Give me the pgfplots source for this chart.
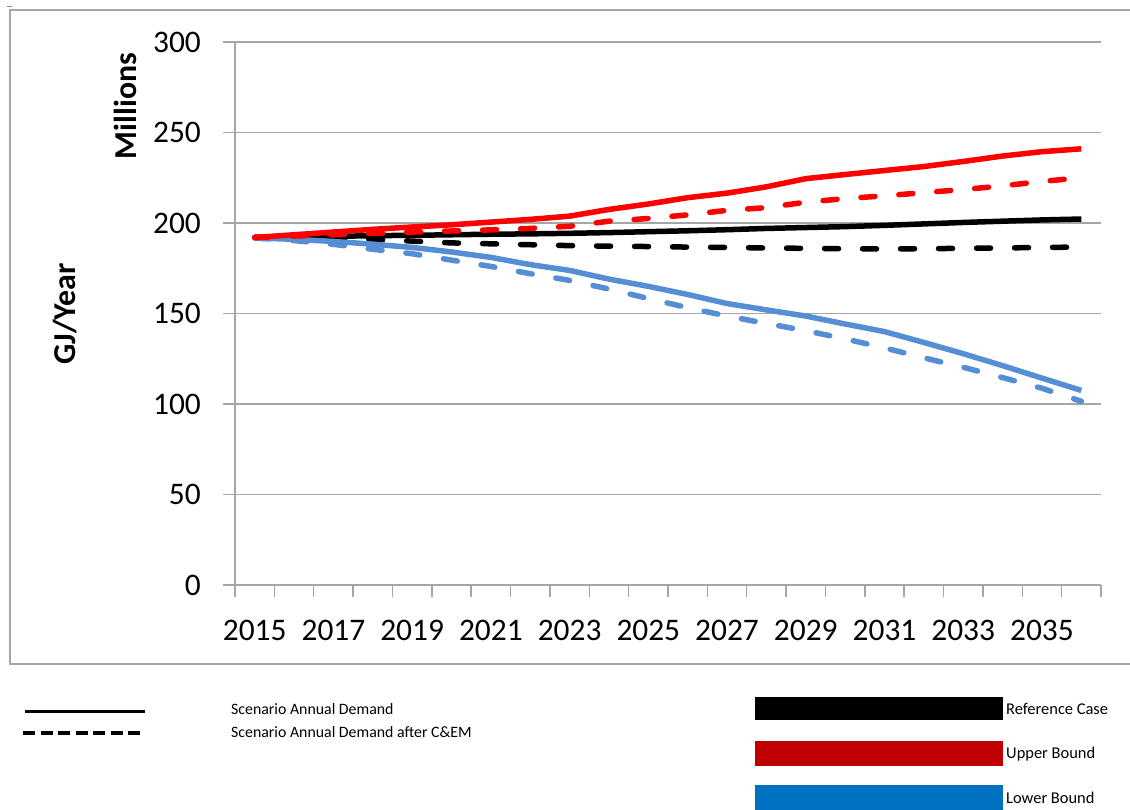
\documentclass[border=0pt]{standalone}
\usepackage{pgfplots}
\pgfplotsset{compat=1.18}
\usepackage{fontspec}
\setmainfont{Carlito}

\definecolor{gridgray}{HTML}{A6A6A6}
\definecolor{lineblue}{HTML}{558ED5}
\definecolor{boxred}{HTML}{C00000}
\definecolor{boxblue}{HTML}{0070C0}

\begin{document}
\begin{tikzpicture}
\useasboundingbox (0,0) rectangle (1130bp,-810bp);
% outer frame
\draw[gridgray, line width=1.5bp] (1140bp,-10bp) -- (10bp,-10bp) -- (10bp,-664bp) -- (1140bp,-664bp);
\draw[gray, line width=1bp] (7bp,-6bp) -- (12bp,-6bp);

\begin{axis}[
  at={(235bp,-585bp)}, anchor=south west,
  scale only axis, width=866bp, height=543bp,
  xmin=2014.5, xmax=2036.5, ymin=0, ymax=300,
  axis lines=left, axis line style={-, gridgray, line width=1.5bp},
  tick align=outside, major tick length=12bp,
  tick style={gridgray, line width=1.5bp},
  ytick={0,50,...,300},
  ymajorgrids, major grid style={gridgray, line width=1.5bp},
  xtick={2014.5,2015.5,...,2036.5}, xticklabel=\empty,
  extra x ticks={2015,2017,...,2035},
  extra x tick labels={2015,2017,2019,2021,2023,2025,2027,2029,2031,2033,2035},
  extra x tick style={major tick length=0pt, grid=none},
  /pgf/number format/assume math mode=true,
  ticklabel style={font=\fontsize{31.5}{36}\selectfont, inner sep=0pt},
  yticklabel style={anchor=east},
  yticklabel shift=22bp,
  xticklabel shift=35bp,
  clip=false,
]
\addplot[black, line width=5.5bp] coordinates {
(2015,192) (2016,192.3) (2017,192.6) (2018,193) (2019,193.2) (2020,193.5)
(2021,193.8) (2022,194) (2023,194.3) (2024,194.7) (2025,195.2) (2026,195.7)
(2027,196.3) (2028,197) (2029,197.5) (2030,198) (2031,198.7) (2032,199.5)
(2033,200.3) (2034,201) (2035,201.7) (2036,202.2)};
\addplot[black, line width=5.5bp, line cap=round, dash pattern=on 14bp off 24bp] coordinates {
(2015,192) (2016,191.8) (2017,191.5) (2018,191) (2019,190) (2020,189)
(2021,188.5) (2022,188) (2023,187.5) (2024,187.2) (2025,187) (2026,186.7)
(2027,186.5) (2028,186.2) (2029,186) (2030,185.8) (2031,185.7) (2032,185.8)
(2033,186) (2034,186.2) (2035,186.5) (2036,186.7)};
\addplot[lineblue, line width=5.5bp] coordinates {
(2015,191.7) (2016,191) (2017,189.8) (2018,188.3) (2019,186.5) (2020,184)
(2021,181) (2022,177) (2023,173.8) (2024,169) (2025,165) (2026,160.5)
(2027,155.5) (2028,152) (2029,148.6) (2030,144.2) (2031,140) (2032,134)
(2033,127.8) (2034,121.2) (2035,114.3) (2036,107.5)};
\addplot[lineblue, line width=5.5bp, line cap=round, dash pattern=on 14bp off 24bp] coordinates {
(2015,191.7) (2016,190.3) (2017,188.2) (2018,185.5) (2019,183) (2020,179.5)
(2021,176) (2022,172) (2023,168.3) (2024,163.5) (2025,158.3) (2026,153.2)
(2027,148.6) (2028,144.5) (2029,140.5) (2030,136) (2031,131) (2032,125.5)
(2033,120.3) (2034,114.6) (2035,108.7) (2036,101.5)};
\addplot[red, line width=5.5bp] coordinates {
(2015,192) (2016,193.5) (2017,195) (2018,196.5) (2019,197.8) (2020,199)
(2021,200.5) (2022,202) (2023,203.8) (2024,207.5) (2025,210.5) (2026,214)
(2027,216.5) (2028,220) (2029,224.5) (2030,226.8) (2031,229) (2032,231.2)
(2033,234) (2034,237) (2035,239.4) (2036,241)};
\addplot[red, line width=5.5bp, line cap=round, dash pattern=on 14bp off 24bp] coordinates {
(2015,192) (2016,192.8) (2017,193.5) (2018,194.3) (2019,195) (2020,195.6)
(2021,196.2) (2022,197) (2023,198.2) (2024,201) (2025,202.5) (2026,204.5)
(2027,207) (2028,208.5) (2029,211.5) (2030,213.5) (2031,215) (2032,216.8)
(2033,218.5) (2034,220.5) (2035,223) (2036,225)};
\end{axis}

% axis titles
\node[rotate=90, font=\fontsize{32}{38}\selectfont\bfseries] at (125bp,-106bp) {Millions};
\node[rotate=90, font=\fontsize{32}{38}\selectfont\bfseries] at (65bp,-314bp) {GJ/Year};

% legend
\draw[black, line width=3bp] (25bp,-711bp) -- (145bp,-711bp);
\draw[black, line width=3.5bp, dash pattern=on 12bp off 5.5bp] (23bp,-733bp) -- (143bp,-733bp);
\node[anchor=west, inner sep=0pt, font=\fontsize{15.9}{18}\selectfont] at (231bp,-709bp) {Scenario Annual Demand};
\node[anchor=west, inner sep=0pt, font=\fontsize{15.9}{18}\selectfont] at (231bp,-732bp) {Scenario Annual Demand after C\&EM};

\fill[black] (755bp,-697bp) rectangle (1003bp,-720bp);
\fill[boxred] (755bp,-741bp) rectangle (1003bp,-766bp);
\fill[boxblue] (755bp,-785bp) rectangle (1003bp,-812bp);
\node[anchor=west, inner sep=0pt, font=\fontsize{16.5}{19}\selectfont] at (1006bp,-709bp) {Reference Case};
\node[anchor=west, inner sep=0pt, font=\fontsize{16.5}{19}\selectfont] at (1006bp,-754bp) {Upper Bound};
\node[anchor=west, inner sep=0pt, font=\fontsize{16.5}{19}\selectfont] at (1006bp,-798bp) {Lower Bound};
\end{tikzpicture}
\end{document}
